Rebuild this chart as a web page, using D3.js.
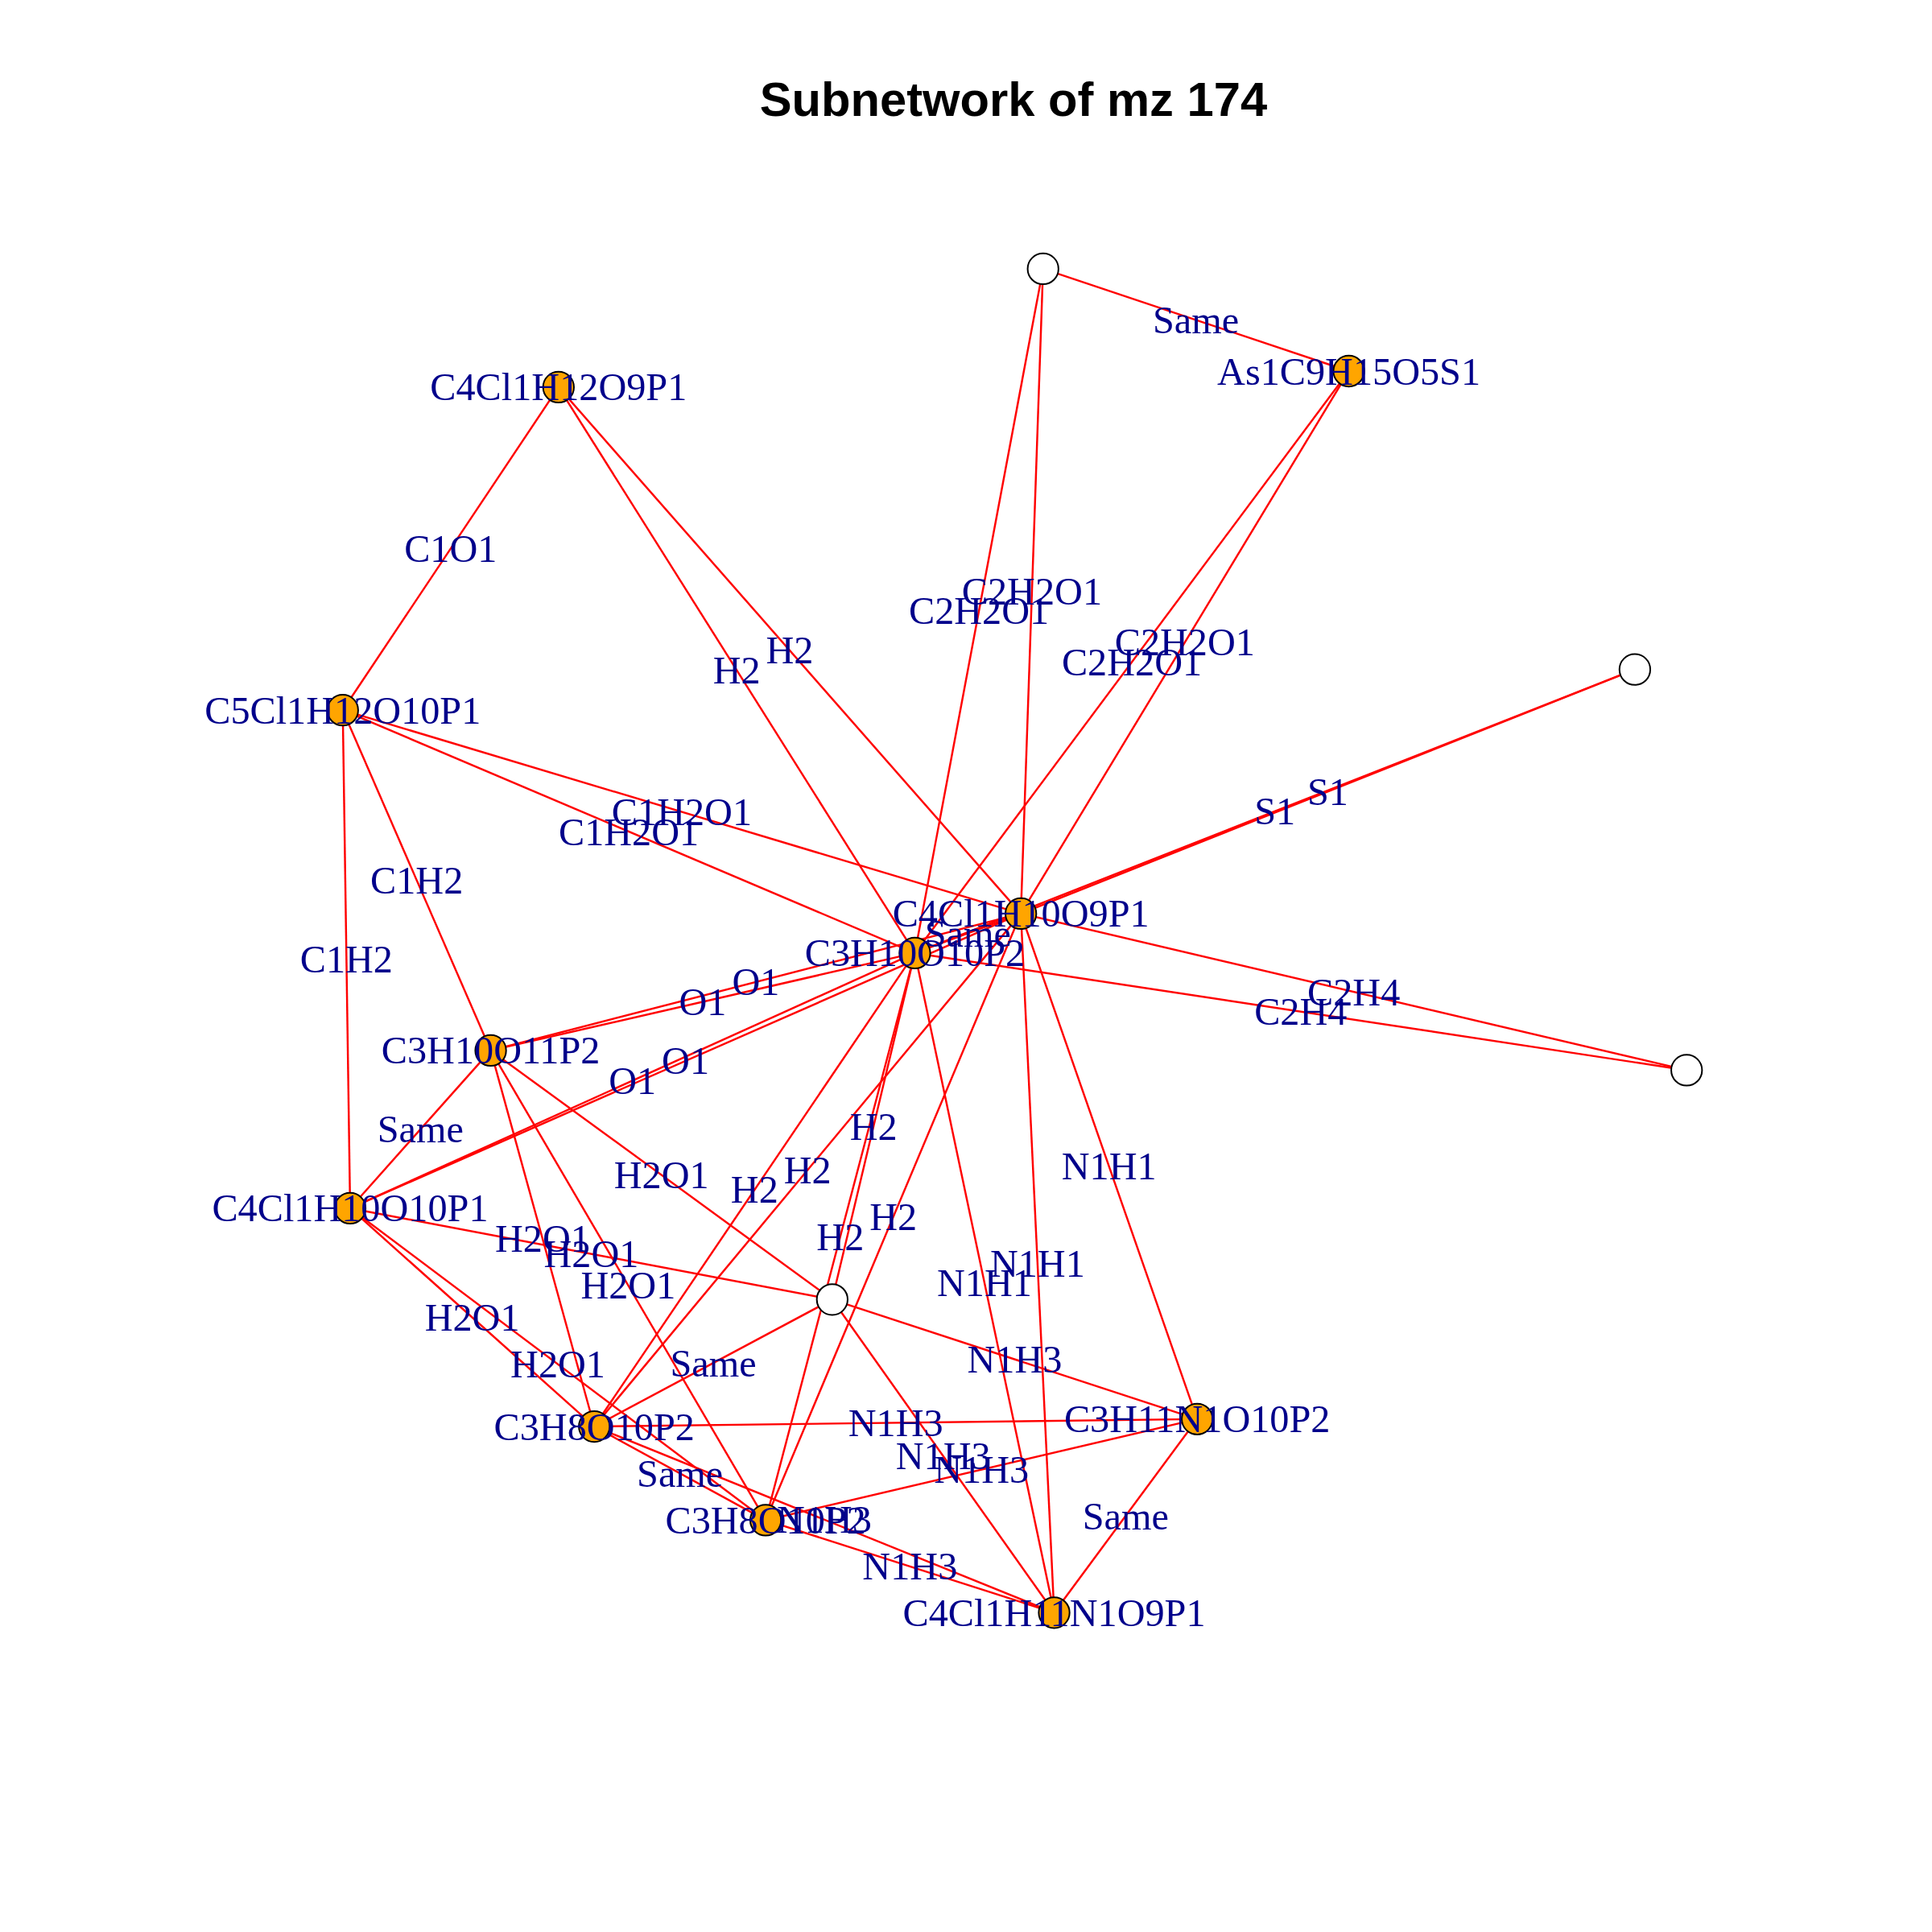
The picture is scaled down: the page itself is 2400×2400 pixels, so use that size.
<!DOCTYPE html>
<html><head><meta charset="utf-8">
<script src="https://cdn.jsdelivr.net/npm/d3@7"></script>
<style>body{margin:0;background:#fff}</style>
</head><body>
<svg id="chart" width="2400" height="2400"></svg>
<script>
// node ids, names (empty = unlabelled white node) and layout positions
const nodeIds = ["A","B","C","D","E","F","G","H","I","J","K","L","M","N","O"];
const nodeNames = ["","As1C9H15O5S1","C4Cl1H12O9P1","C5Cl1H12O10P1","","C4Cl1H10O9P1","C3H10O10P2",
  "C3H10O11P2","","C4Cl1H10O10P1","","C3H11N1O10P2","C3H8O10P2","C3H8O10P2","C4Cl1H11N1O9P1"];
const nodeX = [846,1094,453,278,1326,828,742,398,1368,284,675,971,482,621,855];
const nodeY = [218,301,314,576,543,741,773,852,868,980,1054,1151,1157,1233,1308];

const edgeSource = ["A","A","A","B","B","C","C","C","D","D","D","D","E","E","I","I","F",
  "H","H","J","J","H","H","H","H","J","J","J","G","G","G","G","F","F","F","F",
  "M","M","M","N","N","L","K","K","K"];
const edgeTarget = ["B","F","G","F","G","D","G","F","F","G","H","J","F","G","F","G","G",
  "F","G","F","G","J","K","M","N","K","M","N","K","M","N","O","L","O","N","M",
  "L","N","O","L","O","O","L","M","O"];
const edgeLabel = ["Same","C2H2O1","C2H2O1","C2H2O1","C2H2O1","C1O1","H2","H2","C1H2O1","C1H2O1","C1H2","C1H2","S1","S1","C2H4","C2H4","Same",
  "O1","O1","O1","O1","Same","H2O1","H2O1","H2O1","H2O1","H2O1","H2O1","H2","H2","H2","N1H1","N1H1","N1H1","H2","H2",
  "N1H3","Same","N1H3","N1H3","N1H3","Same","N1H3","Same","N1H3"];

const nodes = nodeIds.map((id, i) => ({id, name: nodeNames[i], x: nodeX[i], y: nodeY[i]}));
const byId = Object.fromEntries(nodes.map(n => [n.id, n]));
const edges = edgeSource.map((s, i) => ({s: byId[s], t: byId[edgeTarget[i]], label: edgeLabel[i]}));

const W = 1567;
const k = 2400 / W;
const x = d3.scaleLinear().domain([0, W]).range([0, 2400]);
const y = d3.scaleLinear().domain([0, W]).range([0, 2400]);

const svg = d3.select("#chart");
svg.append("text").attr("x", x(822)).attr("y", y(94)).attr("text-anchor", "middle")
  .style("font-family", "Liberation Sans, Arial, sans-serif").style("font-weight", "bold")
  .style("font-size", 39 * k + "px").text("Subnetwork of mz 174");

svg.append("g").selectAll("line").data(edges).join("line")
  .attr("x1", d => x(d.s.x)).attr("y1", d => y(d.s.y))
  .attr("x2", d => x(d.t.x)).attr("y2", d => y(d.t.y))
  .attr("stroke", "#ff0000").attr("stroke-width", 1.6 * k);

svg.append("g").selectAll("circle").data(nodes).join("circle")
  .attr("cx", d => x(d.x)).attr("cy", d => y(d.y)).attr("r", 12.5 * k)
  .attr("fill", d => d.name ? "#ffa500" : "#ffffff")
  .attr("stroke", "#000").attr("stroke-width", 1.3 * k);

const font = "Liberation Serif, Times New Roman, serif";
svg.append("g").selectAll("text").data(edges).join("text")
  .attr("x", d => x((d.s.x + d.t.x) / 2)).attr("y", d => y((d.s.y + d.t.y) / 2))
  .attr("text-anchor", "middle").attr("dominant-baseline", "central")
  .style("font-family", font).style("font-size", 31.5 * k + "px").attr("fill", "#00008b")
  .text(d => d.label);

svg.append("g").selectAll("text").data(nodes.filter(n => n.name)).join("text")
  .attr("x", d => x(d.x)).attr("y", d => y(d.y))
  .attr("text-anchor", "middle").attr("dominant-baseline", "central")
  .style("font-family", font).style("font-size", 31.5 * k + "px").attr("fill", "#00008b")
  .text(d => d.name);
</script>
</body></html>
